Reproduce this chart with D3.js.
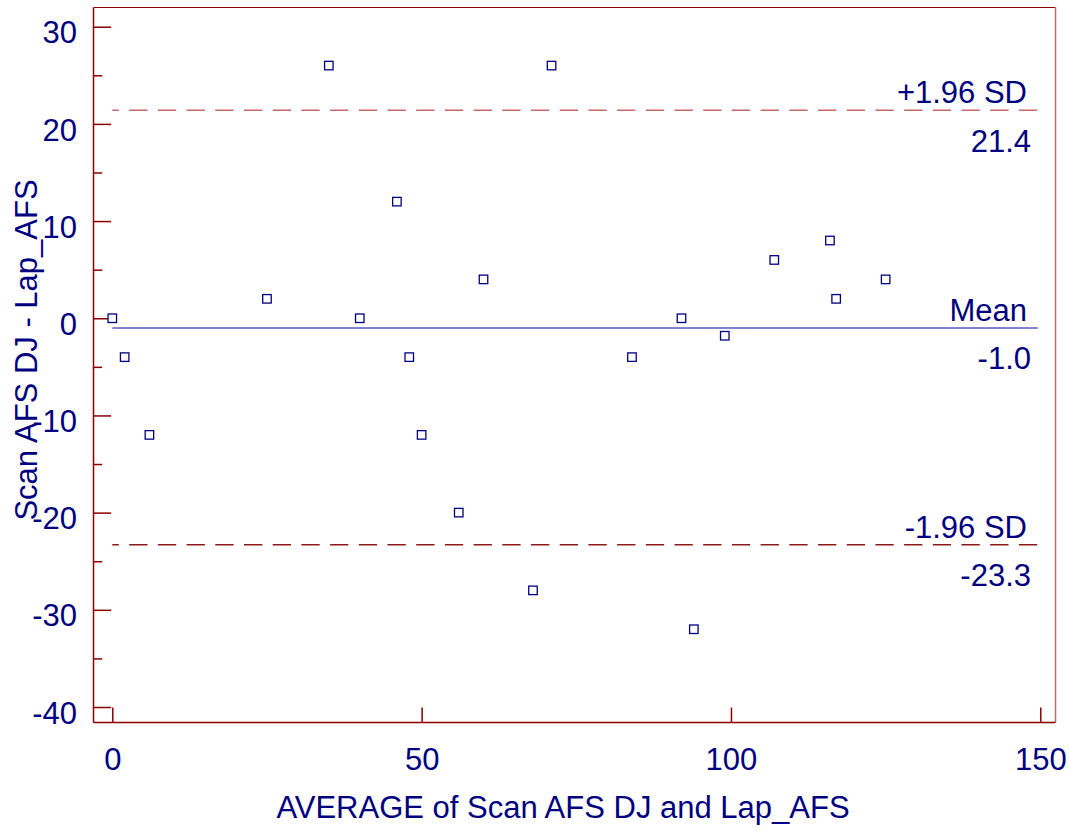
<!DOCTYPE html>
<html>
<head>
<meta charset="utf-8">
<script src="https://cdn.jsdelivr.net/npm/d3@7"></script>
<style>
  html, body { margin: 0; padding: 0; background: #fff; }
  svg { display: block; font-family: "Liberation Sans", Arial, sans-serif; }
</style>
</head>
<body>
<svg id="chart" width="1069" height="830"></svg>
<script>
// ---- data ----
const averages    = [0, 2, 6, 25, 35, 40, 46, 48, 50, 56, 60, 68, 71, 84, 92, 94, 99, 107, 116, 117, 125];
const differences = [0, -4, -12, 2, 26, 0, 12, -4, -12, -20, 4, -28, 26, -4, 0, -32, -1.8, 6, 8, 2, 4];
const xTicks = [0, 50, 100, 150];
const yTicks = [-40, -30, -20, -10, 0, 10, 20, 30];
const yMinorTicks = [-35, -25, -15, -5, 5, 15, 25];
const refNames  = ["+1.96 SD", "Mean", "-1.96 SD"];
const refValues = [21.4, -1.0, -23.3];
const refLabels = ["21.4", "-1.0", "-23.3"];
const xTitle = "AVERAGE of Scan AFS DJ and Lap_AFS";
const yTitle = "Scan AFS DJ - Lap_AFS";

// ---- layout ----
const svg = d3.select("#chart");
const box = { left: 93.5, right: 1055.5, top: 7.5, bottom: 722.5 };
const x = d3.scaleLinear().domain([0, 150]).range([112.3, 1040.3]);
const y = d3.scaleLinear().domain([-40, 30]).range([707, 26.7]);
const navy = "#000080";
const axisRed = "#8b0000";
const fontSize = 31;
const fmt = d => String(d);

// frame
svg.append("line").attr("x1", box.left).attr("x2", box.right).attr("y1", box.top).attr("y2", box.top)
  .attr("stroke", axisRed).attr("stroke-width", 1.2);
svg.append("line").attr("x1", box.right).attr("x2", box.right).attr("y1", box.top).attr("y2", box.bottom)
  .attr("stroke", "#b87070").attr("stroke-width", 1.5);

// y axis major
const yAxis = d3.axisLeft(y).tickValues(yTicks).tickSize(-17.7).tickPadding(16.5).tickFormat(fmt);
const gy = svg.append("g").attr("transform", `translate(${box.left},0)`).call(yAxis);
gy.select(".domain").remove();
gy.selectAll(".tick line").attr("stroke", axisRed).attr("stroke-width", 1.5);
gy.selectAll(".tick text").attr("fill", navy).attr("font-size", fontSize)
  .attr("font-family", "Liberation Sans, Arial, sans-serif").attr("dy", "0.52em");

// y axis minor
const yMinor = d3.axisLeft(y).tickValues(yMinorTicks).tickSize(-8.7).tickFormat("");
const gym = svg.append("g").attr("transform", `translate(${box.left},0)`).call(yMinor);
gym.select(".domain").remove();
gym.selectAll(".tick line").attr("stroke", axisRed).attr("stroke-width", 1.5);

// x axis
const xAxis = d3.axisBottom(x).tickValues(xTicks).tickSize(-15).tickPadding(0).tickFormat(fmt);
const gx = svg.append("g").attr("transform", `translate(0,${box.bottom})`).call(xAxis);
gx.select(".domain").remove();
gx.selectAll(".tick line").attr("stroke", axisRed).attr("stroke-width", 1.5);
gx.selectAll(".tick text").attr("fill", navy).attr("font-size", fontSize)
  .attr("font-family", "Liberation Sans, Arial, sans-serif").attr("dy", null).attr("y", 47.5);

// axis lines
svg.append("line").attr("x1", box.left).attr("x2", box.left).attr("y1", box.top).attr("y2", box.bottom)
  .attr("stroke", axisRed).attr("stroke-width", 1.5);
svg.append("line").attr("x1", box.left).attr("x2", box.right).attr("y1", box.bottom).attr("y2", box.bottom)
  .attr("stroke", axisRed).attr("stroke-width", 1.5);

// reference lines
const refStyles = [
  { stroke: "#c46a6a", width: 1.6, dash: "18.3 10.4", offset: 11.8 },
  { stroke: "#5a5ac4", width: 1.5, dash: null, offset: 0 },
  { stroke: "#8b1a1a", width: 1.4, dash: "18.3 10.4", offset: 11.8 }
];
refValues.forEach((v, i) => {
  const s = refStyles[i];
  const ln = svg.append("line")
    .attr("x1", x(0)).attr("x2", x(149.6))
    .attr("y1", y(v)).attr("y2", y(v))
    .attr("stroke", s.stroke).attr("stroke-width", s.width);
  if (s.dash) ln.attr("stroke-dasharray", s.dash).attr("stroke-dashoffset", s.offset);
  svg.append("text").attr("x", 1027).attr("y", y(v) - 7).attr("text-anchor", "end")
    .attr("fill", navy).attr("font-size", fontSize).text(refNames[i]);
  svg.append("text").attr("x", 1031).attr("y", y(v) + 41.5).attr("text-anchor", "end")
    .attr("fill", navy).attr("font-size", fontSize).text(refLabels[i]);
});

// points
const pts = averages.map((a, i) => ({ a, d: differences[i] }));
const sq = 8.5;
svg.append("g").selectAll("rect").data(pts).join("rect")
  .attr("x", d => x(d.a) - sq / 2).attr("y", d => y(d.d) - sq / 2)
  .attr("width", sq).attr("height", sq)
  .attr("fill", "#fff").attr("stroke", navy).attr("stroke-width", 1.3);

// titles
svg.append("text").attr("x", 563).attr("y", 818).attr("text-anchor", "middle")
  .attr("fill", navy).attr("font-size", fontSize).text(xTitle);
svg.append("text").attr("transform", "translate(37,350) rotate(-90)").attr("text-anchor", "middle")
  .attr("fill", navy).attr("font-size", fontSize).text(yTitle);
</script>
</body>
</html>
